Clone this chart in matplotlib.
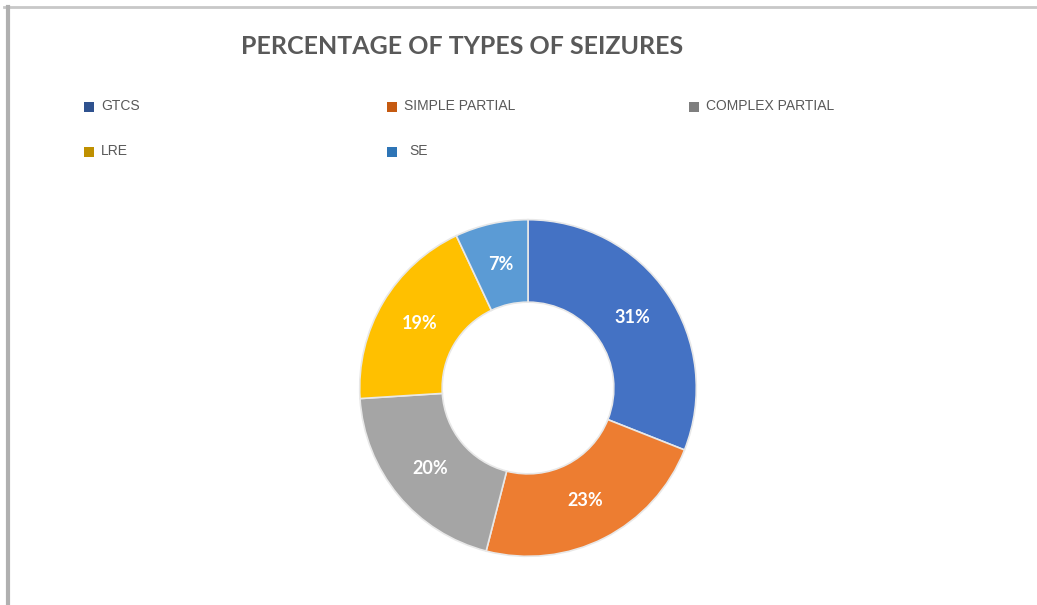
import matplotlib.pyplot as plt
from matplotlib.lines import Line2D

labels = ["GTCS", "SIMPLE PARTIAL", "COMPLEX PARTIAL", "LRE", "SE"]
values = [31, 23, 20, 19, 7]
colors = ["#4472C4", "#ED7D31", "#A5A5A5", "#FFC000", "#5B9BD5"]
marker_colors = ["#2F528F", "#C55A11", "#7F7F7F", "#BF9000", "#2E75B6"]

W, H = 1037, 605
fig = plt.figure(figsize=(W / 100, H / 100), dpi=100)

# overlay axes in pixel coordinates for title, legend and frame
ov = fig.add_axes([0, 0, 1, 1])
ov.set_xlim(0, W)
ov.set_ylim(H, 0)
ov.axis("off")

# frame lines (top and left only, like the source)
ov.add_line(Line2D([4, W], [7, 7], color="#c8c8c8", lw=2))
ov.add_line(Line2D([8, 8], [7, H], color="#b0b0b0", lw=3))

ov.text(462, 47, "PERCENTAGE OF TYPES OF SEIZURES", ha="center", va="center",
        fontsize=18, fontweight="bold", family="Lato", color="#595959")

# legend laid out like the source: 3 columns, 2 rows
leg_x = [89, 392, 694]
leg_y = [107, 152]
for i, (lab, mc) in enumerate(zip(labels, marker_colors)):
    col, row = i % 3, i // 3
    x, y = leg_x[col], leg_y[row]
    ov.scatter([x], [y], marker="s", s=50, color=mc, edgecolors="none")
    pad = 17 if lab == "SE" else 12
    ov.text(x + pad, y - 1, lab, ha="left", va="center", fontsize=10,
            family="Liberation Sans", color="#595959")

# donut
cx, cy, r = 528, 388, 170
ax = fig.add_axes([(cx - r) / W, (H - cy - r) / H, 2 * r / W, 2 * r / H])
wedges, texts, autotexts = ax.pie(
    values, colors=colors, startangle=90, counterclock=False,
    autopct="%d%%", pctdistance=0.75,
    wedgeprops=dict(width=0.49, edgecolor="#e8e8e8", linewidth=1.2),
    textprops=dict(color="white", fontsize=13, fontweight="bold", family="Lato"))
ax.set_xlim(-1.01, 1.01)
ax.set_ylim(-1.01, 1.01)
ax.set_aspect("equal")

fig.savefig("out.png", dpi=100)
